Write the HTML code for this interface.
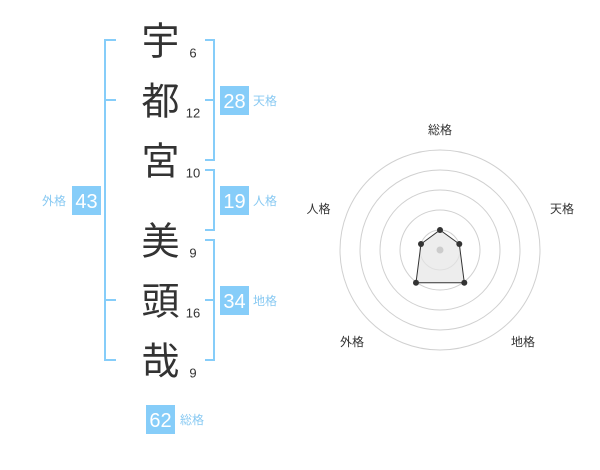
<!DOCTYPE html>
<html><head><meta charset="utf-8"><style>
html,body{margin:0;padding:0;background:#fff;}
svg{display:block;}
.k{font-family:"Liberation Sans","Noto Sans CJK JP",sans-serif;font-size:38px;fill:#333;}
.n{font-family:"Liberation Sans",sans-serif;font-size:13px;fill:#333;}
.b{font-family:"Liberation Sans",sans-serif;font-size:20px;fill:#fff;}
.l{font-family:"Liberation Sans","Noto Sans CJK JP",sans-serif;font-size:12px;fill:#88c9f2;}
.r{font-family:"Liberation Sans","Noto Sans CJK JP",sans-serif;font-size:12px;fill:#333;}
</style></head><body>
<svg width="600" height="470" viewBox="0 0 600 470" xmlns="http://www.w3.org/2000/svg">
<g stroke="#86cdf9" stroke-width="2" fill="none">
<path d="M116 40 H105 V360 H116 M105 100 H116 M105 300 H116"/>
<path d="M205 40 H214 V160 H205 M205 100 H214"/>
<path d="M205 170 H214 V230 H205"/>
<path d="M205 240 H214 V360 H205 M205 300 H214"/>
</g>
<g text-anchor="middle">
<text class="k" x="160.5" y="54.5">宇</text>
<text class="k" x="160.5" y="114.5">都</text>
<text class="k" x="160.5" y="174.5">宮</text>
<text class="k" x="160.5" y="254.5">美</text>
<text class="k" x="160.5" y="314.5">頭</text>
<text class="k" x="160.5" y="374.5">哉</text>
<text class="n" x="193" y="57.5">6</text>
<text class="n" x="193" y="117.5">12</text>
<text class="n" x="193" y="177.5">10</text>
<text class="n" x="193" y="257.5">9</text>
<text class="n" x="193" y="317.5">16</text>
<text class="n" x="193" y="377.5">9</text>
</g>
<g fill="#86cdf9">
<rect x="220" y="86" width="29" height="29"/>
<rect x="220" y="186" width="29" height="29"/>
<rect x="220" y="286" width="29" height="29"/>
<rect x="72" y="186" width="29" height="29"/>
<rect x="146" y="405" width="29" height="29"/>
</g>
<g text-anchor="middle">
<text class="b" x="234.5" y="108">28</text>
<text class="b" x="234.5" y="208">19</text>
<text class="b" x="234.5" y="308">34</text>
<text class="b" x="86.5" y="208">43</text>
<text class="b" x="160.5" y="427">62</text>
</g>
<text class="l" x="253" y="105">天格</text>
<text class="l" x="253" y="205">人格</text>
<text class="l" x="253" y="305">地格</text>
<text class="l" x="66" y="205" text-anchor="end">外格</text>
<text class="l" x="180" y="424">総格</text>
<g fill="none" stroke="#d0d0d0" stroke-width="1">
<circle cx="440" cy="250" r="100"/>
<circle cx="440" cy="250" r="80"/>
<circle cx="440" cy="250" r="60"/>
<circle cx="440" cy="250" r="40"/>
<circle cx="440" cy="250" r="20"/>
</g>
<polygon points="440,230 459.3,244 464.3,282.7 416,282.7 421,244" fill="#e6e6e6" fill-opacity="0.7" stroke="#333" stroke-width="1"/>
<circle cx="440" cy="250" r="3.5" fill="#cccccc"/>
<g fill="#333">
<circle cx="440" cy="230" r="3"/>
<circle cx="459.3" cy="244" r="3"/>
<circle cx="464.3" cy="282.7" r="3"/>
<circle cx="416" cy="282.7" r="3"/>
<circle cx="421" cy="244" r="3"/>
</g>
<g text-anchor="middle">
<text class="r" x="440" y="134">総格</text>
<text class="r" x="562" y="213">天格</text>
<text class="r" x="523" y="346">地格</text>
<text class="r" x="352" y="346">外格</text>
<text class="r" x="318.5" y="213">人格</text>
</g>
</svg>
</body></html>
